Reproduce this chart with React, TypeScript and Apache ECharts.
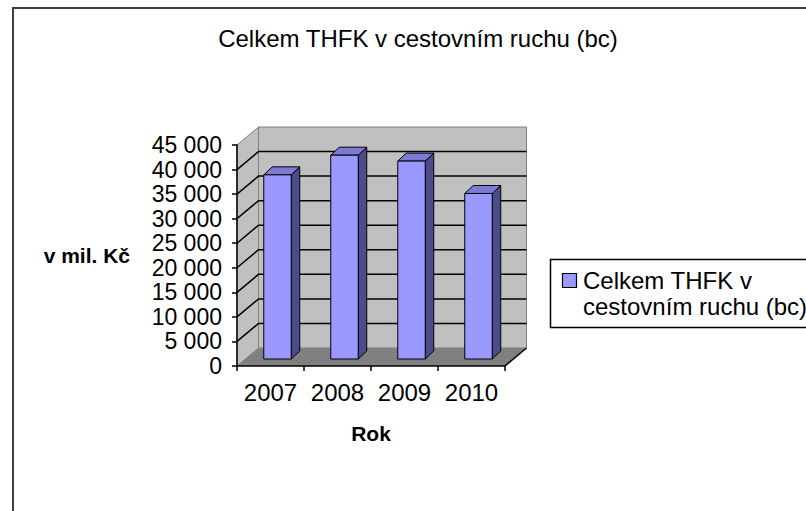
import React, { useEffect, useRef } from "react";
import * as echarts from "echarts";

const titleText = "Celkem THFK v cestovním ruchu (bc)";
const categories = ["2007", "2008", "2009", "2010"];
const seriesName = "Celkem THFK v cestovním ruchu (bc)";
const legendLines = ["Celkem THFK v", "cestovním ruchu (bc)"];
const values = [37500, 41500, 40300, 33700];
const yTicks = [0, 5000, 10000, 15000, 20000, 25000, 30000, 35000, 40000, 45000];
const yAxisName = "v mil. Kč";
const xAxisName = "Rok";

const FONT = "Arial, 'Liberation Sans', sans-serif";
// 3D depth (pixels)
const DX = 21.5;
const DY = -18;
const FX = 7;
const FY = -7;
const BDX = 8.5;
const BDY = -8;

const fmt = (v: number) => String(v).replace(/\B(?=(\d{3})+(?!\d))/g, " ");

export default function App() {
  const ref = useRef<HTMLDivElement>(null);
  useEffect(() => {
    if (!ref.current) return;
    const chart = echarts.init(ref.current, undefined, { renderer: "svg" });
    const yMax = yTicks[yTicks.length - 1];
    const option: any = {
      animation: false,
      backgroundColor: "#ffffff",
      title: {
        text: titleText,
        left: 418,
        top: 26,
        padding: 0,
        textAlign: "center",
        textStyle: { fontFamily: FONT, fontSize: 24, fontWeight: "normal", color: "#000" },
      },
      grid: { left: 237, top: 145, width: 268, height: 221, containLabel: false },
      xAxis: {
        type: "category",
        data: categories,
        z: 10,
        boundaryGap: true,
        axisLine: { lineStyle: { color: "#000", width: 1.5 } },
        axisTick: { show: true, interval: 0, length: 5, lineStyle: { color: "#000", width: 1.5 } },
        axisLabel: { interval: 0, margin: 14, fontFamily: FONT, fontSize: 24, color: "#000" },
        splitLine: { show: false },
        name: xAxisName,
        nameLocation: "middle",
        nameGap: 57,
        nameTextStyle: { fontFamily: FONT, fontSize: 21, fontWeight: "bold", color: "#000" },
      },
      yAxis: {
        type: "value",
        min: 0,
        max: yMax,
        interval: 5000,
        z: 10,
        axisLine: { show: true, lineStyle: { color: "#000", width: 1.5 } },
        axisTick: { show: true, length: 5, lineStyle: { color: "#000", width: 1.5 } },
        axisLabel: { margin: 15, fontFamily: FONT, fontSize: 23, color: "#000", formatter: (v: number) => fmt(v) },
        splitLine: { show: false },
        name: yAxisName,
        nameLocation: "middle",
        nameRotate: 0,
        nameGap: 107,
        nameTextStyle: { fontFamily: FONT, fontSize: 21, fontWeight: "bold", color: "#000" },
      },
      graphic: [
        {
          type: "rect",
          shape: { x: 13, y: 8, width: 1200, height: 1200 },
          style: { fill: "none", stroke: "#404040", lineWidth: 2 },
          silent: true,
          z: 100,
        },
        {
          type: "group",
          z: 100,
          children: [
            {
              type: "rect",
              shape: { x: 550.5, y: 259.5, width: 400, height: 68 },
              style: { fill: "#fff", stroke: "#000", lineWidth: 1.5 },
            },
            {
              type: "rect",
              shape: { x: 562.5, y: 273.5, width: 14, height: 14 },
              style: { fill: "#9999ff", stroke: "#000", lineWidth: 1.2 },
            },
            ...legendLines.map((line, i) => ({
              type: "text",
              x: 583,
              y: 280 + i * 26,
              style: {
                text: line,
                fontFamily: FONT,
                fontSize: 24,
                fill: "#000",
                verticalAlign: "middle",
                align: "left",
              },
            })),
          ],
        },
      ],
      series: [
        {
          type: "custom",
          name: "walls",
          clip: false,
          silent: true,
          z: 1,
          data: yTicks.map((v) => [0, v]),
          renderItem: (params: any, api: any) => {
            const cs = params.coordSys;
            const x0 = cs.x;
            const x1 = cs.x + cs.width;
            const top = cs.y;
            const bottom = cs.y + cs.height;
            const v = api.value(1);
            const y = api.coord([0, v])[1];
            const children: any[] = [];
            if (params.dataIndex === 0) {
              children.push({
                type: "polygon",
                shape: { points: [[x0, top], [x0 + DX, top + DY], [x0 + DX, bottom + DY], [x0, bottom]] },
                style: { fill: "#c0c0c0", stroke: "#808080", lineWidth: 1 },
              });
              children.push({
                type: "polygon",
                shape: { points: [[x0 + DX, top + DY], [x1 + DX, top + DY], [x1 + DX, bottom + DY], [x0 + DX, bottom + DY]] },
                style: { fill: "#c0c0c0", stroke: "#808080", lineWidth: 1 },
              });
              children.push({
                type: "polygon",
                shape: { points: [[x0, bottom], [x0 + DX, bottom + DY], [x1 + DX, bottom + DY], [x1, bottom]] },
                style: { fill: "#808080" },
              });
              children.push({
                type: "line",
                shape: { x1: x1, y1: bottom, x2: x1 + DX, y2: bottom + DY },
                style: { stroke: "#000", lineWidth: 1.5 },
              });
            }
            if (v > 0 && v < yMax) {
              children.push({
                type: "polyline",
                shape: { points: [[x0, y], [x0 + DX, y + DY], [x1 + DX, y + DY]] },
                style: { stroke: "#000", lineWidth: 1.5, fill: "none" },
              });
            }
            return { type: "group", children };
          },
        },
        {
          type: "custom",
          name: seriesName,
          clip: false,
          z: 3,
          data: values.map((v, i) => [i, v]),
          renderItem: (params: any, api: any) => {
            const p = api.coord([api.value(0), api.value(1)]);
            const p0 = api.coord([api.value(0), 0]);
            const bw = api.size([1, 0])[0] * 0.41;
            const xl = p[0] - bw / 2 + FX;
            const xr = xl + bw;
            const yt = p[1] + FY;
            const yb = p0[1] + FY;
            return {
              type: "group",
              children: [
                {
                  type: "polygon",
                  shape: { points: [[xr, yt], [xr + BDX, yt + BDY], [xr + BDX, yb + BDY], [xr, yb]] },
                  style: { fill: "#4c4c8c", stroke: "#000", lineWidth: 1 },
                },
                {
                  type: "polygon",
                  shape: { points: [[xl, yt], [xl + BDX, yt + BDY], [xr + BDX, yt + BDY], [xr, yt]] },
                  style: { fill: "#7b7bd1", stroke: "#000", lineWidth: 1 },
                },
                {
                  type: "rect",
                  shape: { x: xl, y: yt, width: bw, height: yb - yt },
                  style: { fill: "#9999ff", stroke: "#000", lineWidth: 1 },
                },
              ],
            };
          },
        },
      ],
    };
    chart.setOption(option);
    return () => chart.dispose();
  }, []);
  return (
    <div
      ref={ref}
      style={{ position: "absolute", left: 0, top: 0, width: 806, height: 511, background: "#fff" }}
    />
  );
}
